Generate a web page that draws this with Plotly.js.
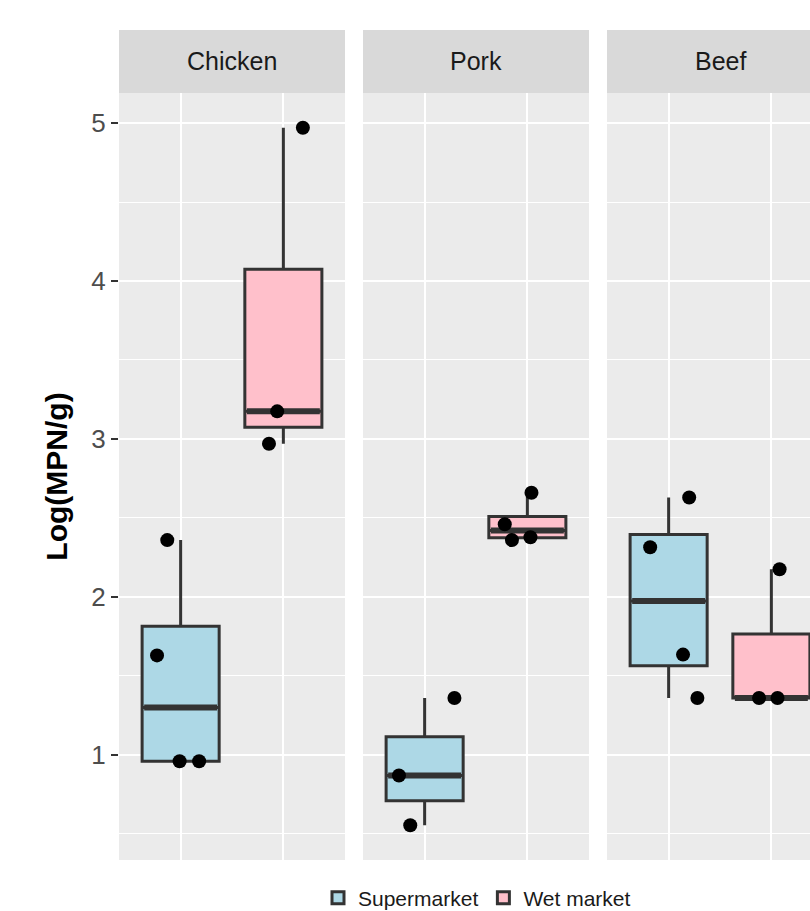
<!DOCTYPE html>
<html>
<head>
<meta charset="utf-8">
<script src="https://cdn.plot.ly/plotly-3.0.1.min.js"></script>
<style>
html, body { margin: 0; padding: 0; background: #ffffff; overflow: hidden; }
#chart { width: 810px; height: 911px; }
</style>
</head>
<body>
<div id="chart"></div>
<script>
// ---------------- DATA ----------------
const meats = ['Chicken', 'Pork', 'Beef'];
const markets = ['Supermarket', 'Wet market'];

// Box statistics per meat (Chicken, Pork, Beef)
const superQ1  = [0.96, 0.71, 1.565];
const superMed = [1.30, 0.87, 1.975];
const superQ3  = [1.815, 1.115, 2.395];
const superLo  = [0.96, 0.555, 1.36];
const superHi  = [2.36, 1.36, 2.63];

const wetQ1  = [3.075, 2.375, 1.36];
const wetMed = [3.175, 2.42, 1.36];
const wetQ3  = [4.075, 2.51, 1.765];
const wetLo  = [2.97, 2.36, 1.36];
const wetHi  = [4.97, 2.66, 2.175];

// Individual observations (Log MPN/g) and their horizontal jitter
const chickenSuperVals = [2.36, 1.63, 0.96, 0.96];
const chickenSuperJit  = [-0.13, -0.23, -0.01, 0.18];
const chickenWetVals   = [4.97, 3.175, 2.97];
const chickenWetJit    = [0.19, -0.06, -0.14];

const porkSuperVals = [1.36, 0.555, 0.87];
const porkSuperJit  = [0.29, -0.14, -0.25];
const porkWetVals   = [2.66, 2.46, 2.36, 2.378];
const porkWetJit    = [0.04, -0.22, -0.15, 0.03];

const beefSuperVals = [2.63, 2.315, 1.635, 1.36];
const beefSuperJit  = [0.20, -0.18, 0.14, 0.28];
const beefWetVals   = [2.175, 1.36, 1.36];
const beefWetJit    = [0.08, -0.12, 0.06];

const yTicks = [1, 2, 3, 4, 5];

// ---------------- STYLE / LAYOUT ----------------
const W = 810, H = 911;
const FONT = '"Liberation Sans", Arial, sans-serif';
const panelLeft = [119, 363, 607];
const panelW = 226;
const plotTop = 93, plotBot = 860, stripTop = 30;
const xr = [-0.6, 1.6];
const boxW = 0.75;
const colors = ['#ADD8E6', '#FFC0CB'];
const edge = '#333333';

const pointsByPanel = [
  [[chickenSuperVals, chickenSuperJit], [chickenWetVals, chickenWetJit]],
  [[porkSuperVals, porkSuperJit], [porkWetVals, porkWetJit]],
  [[beefSuperVals, beefSuperJit], [beefWetVals, beefWetJit]]
];
const stats = [
  [superQ1, superMed, superQ3, superLo, superHi],
  [wetQ1, wetMed, wetQ3, wetLo, wetHi]
];

const traces = [];
const medTraces = [];
const ptTraces = [];
meats.forEach((m, p) => {
  const xa = p === 0 ? 'x' : 'x' + (p + 1);
  const ya = p === 0 ? 'y' : 'y' + (p + 1);
  markets.forEach((mk, g) => {
    const s = stats[g];
    traces.push({
      type: 'box', name: mk, legendgroup: mk, showlegend: p === 0,
      xaxis: xa, yaxis: ya,
      x: [g], q1: [s[0][p]], median: [s[1][p]], q3: [s[2][p]],
      lowerfence: [s[3][p]], upperfence: [s[4][p]],
      width: boxW, whiskerwidth: 0, boxpoints: false,
      fillcolor: colors[g], line: { color: edge, width: 3 },
      hoverinfo: 'skip'
    });
    medTraces.push({
      type: 'scatter', mode: 'lines', showlegend: false, hoverinfo: 'skip',
      xaxis: xa, yaxis: ya,
      x: [g - boxW / 2 + 0.02, g + boxW / 2 - 0.02], y: [s[1][p], s[1][p]],
      line: { color: edge, width: 6 }
    });
    const pts = pointsByPanel[p][g];
    ptTraces.push({
      type: 'scatter', mode: 'markers', showlegend: false, hoverinfo: 'skip',
      xaxis: xa, yaxis: ya,
      x: pts[1].map(j => g + j), y: pts[0],
      marker: { color: '#000000', size: 14 }
    });
  });
});

const yDomain = [1 - plotBot / H, 1 - plotTop / H];
const layout = {
  width: W, height: H,
  margin: { l: 0, r: 0, t: 0, b: 0, autoexpand: false },
  paper_bgcolor: '#ffffff', plot_bgcolor: '#EBEBEB',
  font: { family: FONT, color: '#1A1A1A' },
  showlegend: true,
  legend: {
    orientation: 'h', x: 477 / W, xanchor: 'center', y: 1 - 898 / H, yanchor: 'middle',
    font: { family: FONT, size: 21, color: '#1A1A1A' },
    bgcolor: 'rgba(0,0,0,0)', traceorder: 'normal'
  },
  shapes: [], annotations: []
};

meats.forEach((m, p) => {
  const xk = p === 0 ? 'xaxis' : 'xaxis' + (p + 1);
  const yk = p === 0 ? 'yaxis' : 'yaxis' + (p + 1);
  const left = panelLeft[p];
  const right = Math.min(left + panelW, W);
  const frac = (right - left) / panelW;
  layout[xk] = {
    domain: [left / W, right / W],
    range: [xr[0], xr[0] + (xr[1] - xr[0]) * frac],
    tickvals: [0, 1], showticklabels: false, ticks: '',
    showgrid: true, gridcolor: '#ffffff', gridwidth: 2,
    zeroline: false, showline: false, fixedrange: true,
    anchor: p === 0 ? 'y' : 'y' + (p + 1)
  };
  layout[yk] = {
    domain: yDomain, range: [0.335, 5.19],
    tickvals: yTicks,
    showgrid: true, gridcolor: '#ffffff', gridwidth: 2,
    minor: { dtick: 0.5, showgrid: true, gridcolor: '#ffffff', gridwidth: 1 },
    zeroline: false, showline: false, fixedrange: true,
    anchor: p === 0 ? 'x' : 'x' + (p + 1)
  };
  if (p === 0) {
    Object.assign(layout[yk], {
      ticks: 'outside', ticklen: 7, tickwidth: 2, tickcolor: edge,
      tickfont: { family: FONT, size: 26, color: '#4D4D4D' },
      title: { text: 'Log(MPN/g)', standoff: 14,
               font: { family: FONT, size: 30, color: '#000000', weight: 'bold' } }
    });
  } else {
    Object.assign(layout[yk], { matches: 'y', showticklabels: false, ticks: '' });
  }
  layout.shapes.push({
    type: 'rect', xref: 'paper', yref: 'paper', layer: 'below',
    x0: left / W, x1: right / W, y0: 1 - plotTop / H, y1: 1 - stripTop / H,
    fillcolor: '#D9D9D9', line: { width: 0 }
  });
  layout.annotations.push({
    xref: 'paper', yref: 'paper', showarrow: false,
    x: (left + panelW / 2) / W, y: 1 - ((stripTop + plotTop) / 2) / H,
    xanchor: 'center', yanchor: 'middle', text: m,
    font: { family: FONT, size: 25, color: '#1A1A1A' }
  });
});

Plotly.newPlot('chart', traces.concat(medTraces, ptTraces), layout, { staticPlot: true, displayModeBar: false });
</script>
</body>
</html>
